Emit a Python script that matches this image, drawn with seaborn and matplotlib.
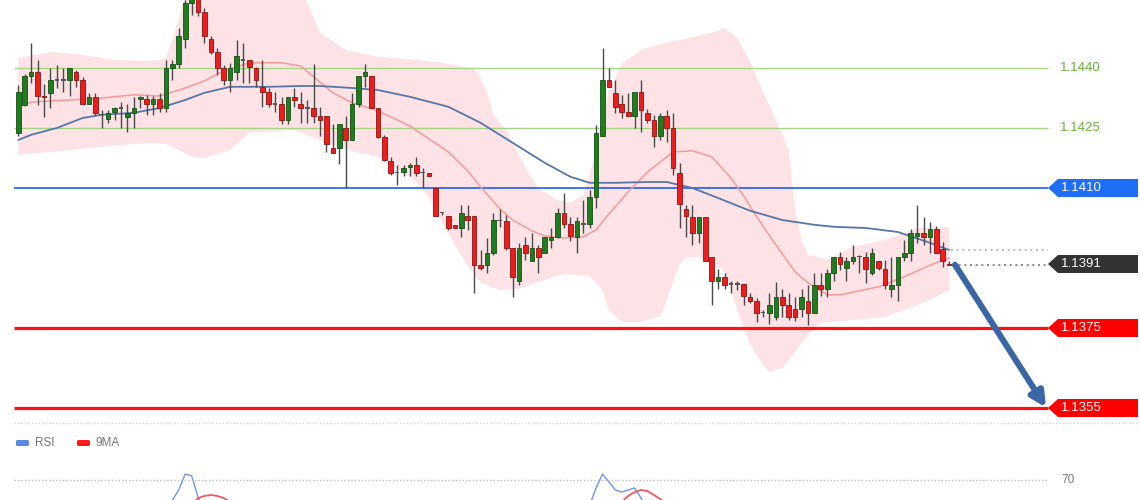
import numpy as np
import pandas as pd
import matplotlib
matplotlib.use("Agg")
import matplotlib.pyplot as plt
import seaborn as sns
from matplotlib.patches import Polygon, FancyArrowPatch, FancyBboxPatch
from matplotlib.lines import Line2D

# ---------------- data ----------------
opens = [1.14238, 1.14308, 1.14380, 1.14390, 1.14330, 1.14338, 1.14370, 1.14370, 1.14370, 1.14390,
         1.14370, 1.14310, 1.14328, 1.14283, 1.14273, 1.14290, 1.14300, 1.14278, 1.14288, 1.14323,
         1.14323, 1.14310, 1.14323, 1.14300, 1.14400, 1.14410, 1.14473, 1.14563, 1.14573, 1.14540,
         1.14473, 1.14440, 1.14400, 1.14370, 1.14390, 1.14420, 1.14420, 1.14400, 1.14353, 1.14340,
         1.14310, 1.14310, 1.14270, 1.14328, 1.14310, 1.14300, 1.14300, 1.14280, 1.14280, 1.14200,
         1.14200, 1.14250, 1.14220, 1.14310, 1.14380, 1.14380, 1.14300, 1.14228, 1.14168, 1.14138,
         1.14140, 1.14153, 1.14158, 1.14138, 1.14138, 1.14100, 1.14038, 1.14030, 1.14008, 1.14000,
         1.14030, 1.14030, 1.13908, 1.13908, 1.13938, 1.14018, 1.14018, 1.13950, 1.13868, 1.13958,
         1.13918, 1.13950, 1.13938, 1.13970, 1.13978, 1.14038, 1.14010, 1.13978, 1.14010, 1.14010,
         1.14078, 1.14230, 1.14370, 1.14338, 1.14310, 1.14290, 1.14280, 1.14340, 1.14288, 1.14270,
         1.14230, 1.14280, 1.14250, 1.14138, 1.14048, 1.14028, 1.13988, 1.14028, 1.13928, 1.13868,
         1.13878, 1.13860, 1.13860, 1.13860, 1.13828, 1.13818, 1.13788, 1.13788, 1.13778, 1.13828,
         1.13808, 1.13798, 1.13798, 1.13818, 1.13788, 1.13858, 1.13848, 1.13888, 1.13928, 1.13900,
         1.13918, 1.13928, 1.13928, 1.13888, 1.13918, 1.13898, 1.13848, 1.13858, 1.13928, 1.13938,
         1.13980, 1.13988, 1.13978, 1.13998, 1.13948, 1.13910]
highs = [1.14358, 1.14385, 1.14463, 1.14420, 1.14360, 1.14400, 1.14408, 1.14400, 1.14400, 1.14395,
         1.14378, 1.14338, 1.14338, 1.14295, 1.14295, 1.14303, 1.14315, 1.14310, 1.14328, 1.14330,
         1.14333, 1.14330, 1.14338, 1.14420, 1.14420, 1.14500, 1.14570, 1.14580, 1.14580, 1.14550,
         1.14480, 1.14450, 1.14408, 1.14413, 1.14470, 1.14463, 1.14420, 1.14403, 1.14420, 1.14350,
         1.14340, 1.14328, 1.14328, 1.14350, 1.14340, 1.14320, 1.14410, 1.14303, 1.14280, 1.14260,
         1.14260, 1.14280, 1.14338, 1.14380, 1.14410, 1.14380, 1.14300, 1.14233, 1.14178, 1.14158,
         1.14158, 1.14163, 1.14178, 1.14150, 1.14138, 1.14100, 1.14040, 1.14030, 1.14008, 1.14058,
         1.14058, 1.14030, 1.13945, 1.13975, 1.14038, 1.14048, 1.14033, 1.13950, 1.13963, 1.13978,
         1.13988, 1.13958, 1.13978, 1.14000, 1.14050, 1.14088, 1.14028, 1.14028, 1.14070, 1.14095,
         1.14258, 1.14450, 1.14400, 1.14370, 1.14333, 1.14338, 1.14340, 1.14370, 1.14298, 1.14283,
         1.14288, 1.14295, 1.14288, 1.14163, 1.14058, 1.14058, 1.14028, 1.14028, 1.13928, 1.13898,
         1.13888, 1.13868, 1.13868, 1.13860, 1.13838, 1.13825, 1.13795, 1.13838, 1.13865, 1.13848,
         1.13838, 1.13828, 1.13848, 1.13858, 1.13888, 1.13888, 1.13898, 1.13928, 1.13940, 1.13928,
         1.13958, 1.13933, 1.13940, 1.13950, 1.13918, 1.13920, 1.13928, 1.13928, 1.13970, 1.13998,
         1.14058, 1.14028, 1.14015, 1.14005, 1.13965, 1.13918]
lows = [1.14230, 1.14305, 1.14363, 1.14308, 1.14278, 1.14300, 1.14350, 1.14340, 1.14330, 1.14353,
        1.14310, 1.14310, 1.14283, 1.14250, 1.14263, 1.14270, 1.14250, 1.14240, 1.14250, 1.14300,
        1.14283, 1.14283, 1.14290, 1.14290, 1.14370, 1.14400, 1.14450, 1.14533, 1.14530, 1.14463,
        1.14435, 1.14383, 1.14358, 1.14340, 1.14370, 1.14363, 1.14363, 1.14353, 1.14303, 1.14303,
        1.14290, 1.14260, 1.14260, 1.14303, 1.14263, 1.14263, 1.14263, 1.14230, 1.14190, 1.14188,
        1.14160, 1.14100, 1.14220, 1.14303, 1.14353, 1.14300, 1.14225, 1.14168, 1.14133, 1.14108,
        1.14130, 1.14130, 1.14130, 1.14100, 1.14130, 1.14030, 1.14033, 1.13995, 1.14000, 1.13978,
        1.13995, 1.13838, 1.13895, 1.13888, 1.13933, 1.14003, 1.13945, 1.13828, 1.13858, 1.13920,
        1.13918, 1.13888, 1.13938, 1.13950, 1.13975, 1.14000, 1.13968, 1.13938, 1.13988, 1.14000,
        1.14050, 1.14230, 1.14353, 1.14288, 1.14275, 1.14280, 1.14250, 1.14240, 1.14263, 1.14203,
        1.14220, 1.14215, 1.14133, 1.14000, 1.13978, 1.13958, 1.13963, 1.13918, 1.13808, 1.13848,
        1.13848, 1.13838, 1.13845, 1.13808, 1.13813, 1.13765, 1.13778, 1.13760, 1.13770, 1.13778,
        1.13770, 1.13768, 1.13778, 1.13758, 1.13788, 1.13830, 1.13828, 1.13868, 1.13895, 1.13868,
        1.13910, 1.13888, 1.13863, 1.13883, 1.13895, 1.13848, 1.13828, 1.13818, 1.13918, 1.13918,
        1.13963, 1.13958, 1.13938, 1.13938, 1.13903, 1.13908]
closes = [1.14340, 1.14380, 1.14390, 1.14330, 1.14328, 1.14370, 1.14370, 1.14370, 1.14400, 1.14370,
          1.14310, 1.14328, 1.14288, 1.14283, 1.14288, 1.14300, 1.14300, 1.14288, 1.14300, 1.14328,
          1.14310, 1.14323, 1.14300, 1.14400, 1.14410, 1.14480, 1.14563, 1.14575, 1.14540, 1.14480,
          1.14440, 1.14400, 1.14370, 1.14400, 1.14430, 1.14420, 1.14403, 1.14370, 1.14340, 1.14310,
          1.14310, 1.14270, 1.14328, 1.14320, 1.14300, 1.14300, 1.14280, 1.14270, 1.14210, 1.14188,
          1.14260, 1.14220, 1.14310, 1.14380, 1.14390, 1.14300, 1.14228, 1.14170, 1.14138, 1.14138,
          1.14150, 1.14158, 1.14138, 1.14138, 1.14130, 1.14030, 1.14038, 1.14000, 1.14000, 1.14038,
          1.14020, 1.13908, 1.13900, 1.13938, 1.14020, 1.14018, 1.13950, 1.13878, 1.13950, 1.13938,
          1.13950, 1.13928, 1.13978, 1.13978, 1.14038, 1.14010, 1.13980, 1.14018, 1.14010, 1.14078,
          1.14238, 1.14370, 1.14353, 1.14303, 1.14290, 1.14280, 1.14340, 1.14295, 1.14270, 1.14230,
          1.14280, 1.14250, 1.14150, 1.14060, 1.14030, 1.13988, 1.14028, 1.13918, 1.13868, 1.13878,
          1.13858, 1.13860, 1.13860, 1.13830, 1.13818, 1.13788, 1.13788, 1.13808, 1.13828, 1.13808,
          1.13778, 1.13778, 1.13828, 1.13788, 1.13858, 1.13848, 1.13888, 1.13928, 1.13910, 1.13918,
          1.13928, 1.13928, 1.13898, 1.13938, 1.13900, 1.13858, 1.13858, 1.13928, 1.13938, 1.13988,
          1.13988, 1.13978, 1.13998, 1.13938, 1.13918, 1.13908]

# Bollinger band edges (candle index, price)
upper_idx = [0, 5, 10, 15, 20, 22, 23, 24, 25, 26, 27, 30, 35, 40, 43, 45, 47, 51, 56, 62, 66, 71, 72,
             73, 74, 76, 79, 81, 84, 86, 88, 89, 90, 91, 92, 94, 97, 100, 103, 108, 110, 112, 114,
             116, 118, 120, 121, 122, 123, 126, 130, 135, 140, 145]
upper_val = [1.14425, 1.14440, 1.14433, 1.14420, 1.14418, 1.14420, 1.14425, 1.14470, 1.14520, 1.14583,
             1.14633, 1.14683, 1.14708, 1.14670, 1.14608, 1.14565, 1.14488, 1.14445, 1.14428, 1.14420,
             1.14413, 1.14398, 1.14375, 1.14340, 1.14283, 1.14245, 1.14150, 1.14100, 1.14070, 1.14063,
             1.14083, 1.14133, 1.14200, 1.14283, 1.14340, 1.14410, 1.14445, 1.14460, 1.14470, 1.14488,
             1.14500, 1.14475, 1.14415, 1.14340, 1.14270, 1.14195, 1.14045, 1.13970, 1.13933, 1.13920,
             1.13953, 1.13970, 1.14000, 1.14003]
lower_idx = [0, 5, 13, 20, 23, 25, 27, 29, 33, 36, 43, 48, 53, 56, 60, 62, 64, 66, 68, 70, 72, 75, 78,
             82, 85, 89, 91, 92, 94, 97, 99, 100, 101, 102, 103, 104, 106, 108, 110, 111, 112, 113,
             114, 116, 117, 119, 121, 123, 125, 130, 135, 138, 142, 145]
lower_val = [1.14183, 1.14190, 1.14203, 1.14213, 1.14210, 1.14195, 1.14178, 1.14175, 1.14195, 1.14238,
             1.14245, 1.14213, 1.14188, 1.14178, 1.14140, 1.14115, 1.14075, 1.14015, 1.13958, 1.13905,
             1.13863, 1.13845, 1.13848, 1.13870, 1.13885, 1.13880, 1.13845, 1.13795, 1.13765, 1.13765,
             1.13775, 1.13778, 1.13820, 1.13865, 1.13908, 1.13925, 1.13928, 1.13920, 1.13890, 1.13845,
             1.13795, 1.13750, 1.13708, 1.13658, 1.13640, 1.13650, 1.13690, 1.13733, 1.13763, 1.13770,
             1.13778, 1.13795, 1.13820, 1.13845]

# moving averages
ma_red_idx = [0, 2, 8, 13, 18, 22, 23, 26, 29, 32, 36, 41, 44, 46, 49, 52, 56, 61, 67, 70, 72, 75, 77,
              80, 82, 85, 88, 90, 92, 95, 98, 102, 105, 108, 111, 113, 115, 118, 121, 123, 126, 128,
              134, 138, 141, 144, 145]
ma_red_val = [1.14303, 1.14315, 1.14320, 1.14325, 1.14333, 1.14330, 1.14335, 1.14350, 1.14368, 1.14393,
              1.14413, 1.14413, 1.14405, 1.14378, 1.14338, 1.14313, 1.14293, 1.14255, 1.14190, 1.14143,
              1.14103, 1.14048, 1.14020, 1.13993, 1.13980, 1.13975, 1.13978, 1.13995, 1.14035, 1.14090,
              1.14140, 1.14190, 1.14193, 1.14178, 1.14125, 1.14080, 1.14028, 1.13958, 1.13890, 1.13863,
              1.13833, 1.13833, 1.13853, 1.13878, 1.13900, 1.13920, 1.13925]
ma_blue_idx = [0, 2, 6, 10, 13, 18, 22, 26, 29, 33, 39, 44, 47, 52, 56, 61, 67, 72, 77, 82, 86, 89, 93,
               98, 101, 105, 109, 114, 119, 124, 127, 132, 137, 142, 145]
ma_blue_val = [1.14220, 1.14233, 1.14250, 1.14275, 1.14283, 1.14288, 1.14300, 1.14320, 1.14338, 1.14353,
               1.14353, 1.14355, 1.14355, 1.14350, 1.14345, 1.14328, 1.14303, 1.14263, 1.14213, 1.14163,
               1.14128, 1.14113, 1.14113, 1.14115, 1.14115, 1.14100, 1.14075, 1.14043, 1.14020, 1.14008,
               1.14003, 1.14000, 1.13990, 1.13963, 1.13945]

# levels
green_levels = [1.1440, 1.1425]
pivot_level = 1.1410
current_price = 1.1391
red_levels = [1.1375, 1.1355]
target_level = 1.1355

# RSI panel (visible pieces only)
rsi_idx = [23, 24, 25, 26, 27, 28, 29, 89, 90, 91, 92, 93, 94, 95, 96, 97, 98]
rsi_val = [48.6, 55.7, 62.9, 74.3, 72.9, 57.9, 48.6, 52.0, 64.3, 74.3, 68.6, 62.9, 61.4, 62.9, 64.3, 57.1, 50.0]
rsi_seg = [1] * 7 + [2] * 10
ma9_idx = [27, 28, 29, 30, 31, 32, 33, 94, 95, 96, 97, 98, 99, 100, 101]
ma9_val = [52.0, 57.1, 58.6, 59.3, 58.6, 57.1, 54.3, 54.3, 58.6, 61.4, 62.9, 62.1, 59.3, 56.4, 52.9]
ma9_seg = [1] * 7 + [2] * 8
rsi_level = 70

# ---------------- style ----------------
sns.set_theme(style="white")
plt.rcParams['font.family'] = ['Liberation Sans', 'DejaVu Sans']

W, H = 1140, 500
fig = plt.figure(figsize=(W / 100, H / 100), dpi=100)
fig.patch.set_facecolor('white')

X0, DX = 18.3, 6.42          # pixel of first candle, pixel spacing
def px2idx(px):
    return (px - X0) / DX
XL = (px2idx(0), px2idx(W))
PRICE_TOP, PX_PER_PRICE = 1.1457, 40000.0
split_px = 423

ax = fig.add_axes([0, (H - split_px) / H, 1, split_px / H])
ax.set_xlim(*XL)
ax.set_ylim(PRICE_TOP - split_px / PX_PER_PRICE, PRICE_TOP)
ax.axis('off')

line_x0 = px2idx(14)
line_x1 = px2idx(1048)
box_tip = line_x1
box_start = px2idx(1058)
box_end = px2idx(1138)
half_h = 9 / PX_PER_PRICE
text_x = px2idx(1061)

# Bollinger band
poly_x = np.r_[upper_idx, lower_idx[::-1]]
poly_y = np.r_[upper_val, lower_val[::-1]]
ax.fill(poly_x, poly_y, facecolor='#fde3e6', edgecolor='none', zorder=1)

# level lines
for lv in green_levels:
    ax.hlines(lv, line_x0, line_x1, color='#a6d585', lw=1.0, zorder=2)
    ax.text(px2idx(1060), lv, f"{lv:.4f}", color='#6db23c', fontsize=9.5,
            va='center', ha='left', zorder=6)
ax.hlines(pivot_level, line_x0, line_x1, color='#1a5cff', lw=1.2, zorder=2)
for lv in red_levels:
    ax.hlines(lv, line_x0, line_x1, color='#ff1010', lw=2.3, zorder=2)

# moving averages
df_red = pd.DataFrame({'i': ma_red_idx, 'v': ma_red_val})
df_blue = pd.DataFrame({'i': ma_blue_idx, 'v': ma_blue_val})
sns.lineplot(data=df_red, x='i', y='v', ax=ax, color='#f49a9a', lw=1.1, sort=False,
             estimator=None, zorder=3)
sns.lineplot(data=df_blue, x='i', y='v', ax=ax, color='#5676aa', lw=1.3, sort=False,
             estimator=None, zorder=3)
ax.set_xlim(*XL)
ax.set_ylim(PRICE_TOP - split_px / PX_PER_PRICE, PRICE_TOP)
ax.axis('off')

# candles
idx = np.arange(len(opens))
o = np.array(opens); h = np.array(highs); l = np.array(lows); c = np.array(closes)
ax.vlines(idx, l, h, color='#4a4a4a', lw=1.0, zorder=4)
body_lo = np.minimum(o, c)
body_h = np.maximum(np.abs(c - o), 1.2 / PX_PER_PRICE)
up = c > o
dn = c < o
flat = ~(up | dn)
ax.bar(idx[up], body_h[up], bottom=body_lo[up], width=0.72, color='#1f7d1f',
       edgecolor='#145214', lw=0.6, zorder=5)
ax.bar(idx[dn], body_h[dn], bottom=body_lo[dn], width=0.72, color='#ee1c1c',
       edgecolor='#8e1313', lw=0.6, zorder=5)
ax.bar(idx[flat], body_h[flat], bottom=body_lo[flat] - 0.6 / PX_PER_PRICE, width=0.72,
       color='#555555', edgecolor='none', zorder=5)

last_i = idx[-1]
# dotted extensions
ax.hlines(ma_blue_val[-1], ma_blue_idx[-1] + 0.3, line_x1, color='#9db4dc', lw=1.2,
          linestyles=(0, (1.2, 2.2)), zorder=3)
ax.hlines(closes[-1], last_i + 0.6, line_x1, color='#777777', lw=1.2,
          linestyles=(0, (1.2, 2.2)), zorder=3)

# label boxes
def label_box(level, color):
    pts = [(box_tip, level), (box_start, level + half_h), (box_end, level + half_h),
           (box_end, level - half_h), (box_start, level - half_h)]
    ax.add_patch(Polygon(pts, closed=True, facecolor=color, edgecolor='none', zorder=6))
    ax.text(text_x, level, f"{level:.4f}", color='white', fontsize=9.5,
            va='center', ha='left', zorder=7)

label_box(pivot_level, '#1f6ef7')
label_box(current_price, '#333333')
for lv in red_levels:
    label_box(lv, '#ff0000')

# forecast arrow
arr = FancyArrowPatch((last_i + 0.9, closes[-1]), (box_tip - 0.3, target_level + 0.4 / PX_PER_PRICE),
                      arrowstyle='-|>', mutation_scale=22, lw=4.4, color='#3a66a6',
                      shrinkA=0, shrinkB=0, zorder=8)
ax.add_patch(arr)

# ---------------- RSI panel ----------------
RSI_PX = 1.4
rsi_px_70 = 480
ax2 = fig.add_axes([0, 0, 1, (H - split_px) / H])
ax2.set_xlim(*XL)
ylo = rsi_level - (H - rsi_px_70) / RSI_PX
yhi = rsi_level + (rsi_px_70 - split_px) / RSI_PX
df_rsi = pd.DataFrame({'i': rsi_idx, 'v': rsi_val, 's': rsi_seg})
df_ma9 = pd.DataFrame({'i': ma9_idx, 'v': ma9_val, 's': ma9_seg})
sns.lineplot(data=df_rsi, x='i', y='v', units='s', estimator=None, ax=ax2,
             color='#6f95ea', lw=1.0, sort=False)
sns.lineplot(data=df_ma9, x='i', y='v', units='s', estimator=None, ax=ax2,
             color='#f25a5a', lw=1.3, sort=False)
ax2.hlines(rsi_level, line_x0, px2idx(1047), color='#bbbbbb', lw=1.0,
           linestyles=(0, (1, 1.5)))
ax2.text(px2idx(1061), rsi_level, f"{rsi_level}", color='#777777', fontsize=8.5,
         va='center', ha='left')
ax2.set_xlim(*XL)
ax2.set_ylim(ylo, yhi)
ax2.axis('off')

# separator
fig.add_artist(Line2D([14 / W, 1.0], [(H - split_px) / H] * 2, color='#d5d5d5', lw=1.0,
                      linestyle=(0, (1, 1.5))))

# legend
def fx(px):
    return px / W
def fy(py):
    return (H - py) / H
for x0, col, lab in [(16, '#5b88e0', 'RSI'), (77, '#ff1a1a', '9MA')]:
    fig.add_artist(FancyBboxPatch((fx(x0), fy(446)), 13 / W, 6 / H,
                                  boxstyle='round,pad=0,rounding_size=0.002',
                                  facecolor=col, edgecolor='none', transform=fig.transFigure))
    fig.text(fx(x0 + 19), fy(442.5), lab, color='#777777', fontsize=8.5, va='center', ha='left')

fig.savefig('out.png', dpi=100, facecolor='white')
